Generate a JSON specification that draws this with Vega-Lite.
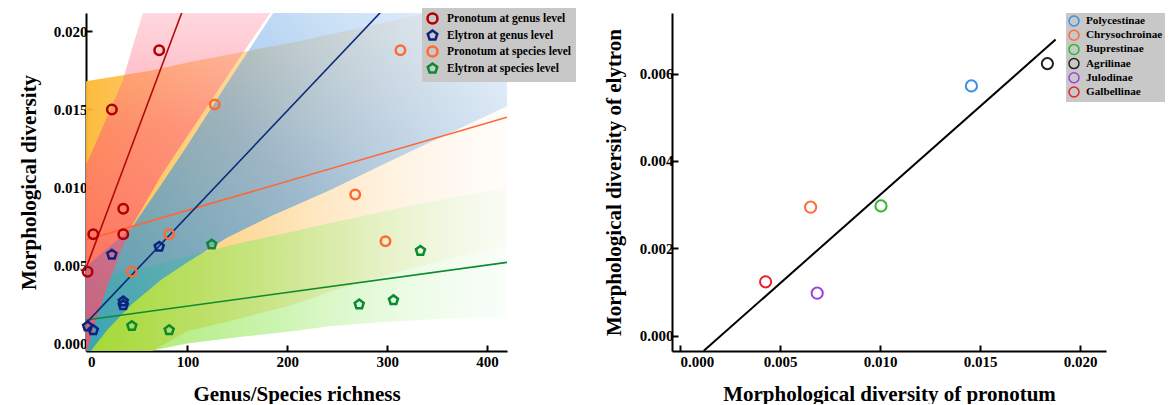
{
  "$schema": "https://vega.github.io/schema/vega-lite/v6.json",
  "background": "white",
  "padding": {"left": 18, "top": 8, "right": 0, "bottom": 0},
  "spacing": 27,
  "resolve": {"scale": {"color": "independent", "shape": "independent"}, "legend": {"color": "independent", "shape": "independent"}},
  "config": {
    "view": {"stroke": null},
    "axis": {
      "grid": false,
      "domainColor": "black",
      "domainWidth": 2,
      "tickColor": "black",
      "tickWidth": 2,
      "tickSize": -6,
      "labelPadding": 5,
      "labelFont": "Liberation Serif",
      "labelFontWeight": "bold",
      "labelFontSize": 15,
      "labelColor": "black",
      "titleFont": "Liberation Serif",
      "titleFontWeight": "bold",
      "titleFontSize": 21,
      "titleColor": "black"
    },
    "legend": {
      "labelFont": "Liberation Serif",
      "labelFontWeight": "bold",
      "labelColor": "black"
    }
  },
  "datasets": {
    "bandO": [
      {"x": -2, "y": 0.0168, "lo": -0.0037},
      {"x": 64, "y": 0.0175, "lo": -0.0005},
      {"x": 100, "y": 0.0180, "lo": 0.0008},
      {"x": 140, "y": 0.0185, "lo": 0.0014},
      {"x": 207, "y": 0.0193, "lo": 0.0025},
      {"x": 242, "y": 0.0198, "lo": 0.0033},
      {"x": 300, "y": 0.0206, "lo": 0.0044},
      {"x": 360, "y": 0.0215, "lo": 0.0054},
      {"x": 420, "y": 0.0225, "lo": 0.0063}
    ],
    "bandG": [
      {"x": -2, "y": 0.0040, "lo": -0.0016},
      {"x": 65, "y": 0.0050, "lo": -0.00045},
      {"x": 100, "y": 0.0056, "lo": 0.0000},
      {"x": 150, "y": 0.0064, "lo": 0.0004},
      {"x": 207, "y": 0.0072, "lo": 0.0008},
      {"x": 242, "y": 0.0077, "lo": 0.0011},
      {"x": 300, "y": 0.0085, "lo": 0.0014},
      {"x": 360, "y": 0.0093, "lo": 0.0016},
      {"x": 420, "y": 0.0100, "lo": 0.0017}
    ],
    "bandB": [
      {"x": -2, "y": 0.0049, "lo": -0.0009},
      {"x": 20, "y": 0.0061, "lo": 0.0009},
      {"x": 44, "y": 0.0074, "lo": 0.0025},
      {"x": 74, "y": 0.0102, "lo": 0.0041},
      {"x": 100, "y": 0.0127, "lo": 0.0052},
      {"x": 140, "y": 0.0167, "lo": 0.0068},
      {"x": 185, "y": 0.0211, "lo": 0.0082},
      {"x": 242, "y": 0.0260, "lo": 0.0098},
      {"x": 300, "y": 0.0265, "lo": 0.0116},
      {"x": 350, "y": 0.0265, "lo": 0.0131},
      {"x": 420, "y": 0.0265, "lo": 0.0152}
    ],
    "bandR": [
      {"x": -2, "y": 0.0114, "lo": -0.0008},
      {"x": 10, "y": 0.0131, "lo": 0.0018},
      {"x": 20, "y": 0.0146, "lo": 0.0037},
      {"x": 35, "y": 0.0168, "lo": 0.0062},
      {"x": 44, "y": 0.0188, "lo": 0.0075},
      {"x": 55, "y": 0.0211, "lo": 0.0087},
      {"x": 74, "y": 0.0255, "lo": 0.0108},
      {"x": 100, "y": 0.0260, "lo": 0.0133},
      {"x": 120, "y": 0.0260, "lo": 0.0152},
      {"x": 150, "y": 0.0260, "lo": 0.0181},
      {"x": 182, "y": 0.0260, "lo": 0.0211},
      {"x": 200, "y": 0.0260, "lo": 0.0228}
    ],
    "lines": [
      {"series": "pg", "x": -2, "y": 0.00476},
      {"series": "pg", "x": 96, "y": 0.02149},
      {"series": "eg", "x": -2, "y": 0.00127},
      {"series": "eg", "x": 296, "y": 0.0214},
      {"series": "ps", "x": -2, "y": 0.00663},
      {"series": "ps", "x": 420, "y": 0.0145},
      {"series": "es", "x": -2, "y": 0.0015},
      {"series": "es", "x": 420, "y": 0.0052}
    ],
    "ptsLeft": [
      {"series": "Pronotum at genus level", "x": 0, "y": 0.0046},
      {"series": "Pronotum at genus level", "x": 5.7, "y": 0.0070},
      {"series": "Pronotum at genus level", "x": 24.3, "y": 0.0150},
      {"series": "Pronotum at genus level", "x": 35.7, "y": 0.00863},
      {"series": "Pronotum at genus level", "x": 35.7, "y": 0.0070},
      {"series": "Pronotum at genus level", "x": 71.7, "y": 0.01879},
      {"series": "Elytron at genus level", "x": 0, "y": 0.0011},
      {"series": "Elytron at genus level", "x": 5.7, "y": 0.00086},
      {"series": "Elytron at genus level", "x": 24.3, "y": 0.0057},
      {"series": "Elytron at genus level", "x": 35.7, "y": 0.0027},
      {"series": "Elytron at genus level", "x": 35.7, "y": 0.00246},
      {"series": "Elytron at genus level", "x": 71.7, "y": 0.0062},
      {"series": "Pronotum at species level", "x": 44.3, "y": 0.0046},
      {"series": "Pronotum at species level", "x": 81.7, "y": 0.0070},
      {"series": "Pronotum at species level", "x": 127.3, "y": 0.01531},
      {"series": "Pronotum at species level", "x": 268, "y": 0.00955},
      {"series": "Pronotum at species level", "x": 298.3, "y": 0.00656},
      {"series": "Pronotum at species level", "x": 313.3, "y": 0.01879},
      {"series": "Elytron at species level", "x": 44.3, "y": 0.00112},
      {"series": "Elytron at species level", "x": 81.7, "y": 0.00086},
      {"series": "Elytron at species level", "x": 124.3, "y": 0.00635},
      {"series": "Elytron at species level", "x": 272, "y": 0.00251},
      {"series": "Elytron at species level", "x": 306.3, "y": 0.00278},
      {"series": "Elytron at species level", "x": 333.3, "y": 0.00594}
    ],
    "lineRight": [
      {"x": 0.00119, "y": -0.00035},
      {"x": 0.01878, "y": 0.00678}
    ],
    "ptsRight": [
      {"subfamily": "Polycestinae", "x": 0.01457, "y": 0.00572},
      {"subfamily": "Chrysochroinae", "x": 0.00653, "y": 0.00294},
      {"subfamily": "Buprestinae", "x": 0.01005, "y": 0.00297},
      {"subfamily": "Agrilinae", "x": 0.01837, "y": 0.00623},
      {"subfamily": "Julodinae", "x": 0.00686, "y": 0.00097},
      {"subfamily": "Galbellinae", "x": 0.00428, "y": 0.00123}
    ]
  },
  "hconcat": [
    {
      "width": 421,
      "height": 338,
      "encoding": {
        "x": {
          "field": "x", "type": "quantitative",
          "scale": {"domain": [-1.6, 420], "nice": false, "zero": false},
          "axis": {"values": [0, 100, 200, 300, 400], "title": "Genus/Species richness", "titlePadding": 14, "labelPadding": 9, "labelFlush": 3}
        },
        "y": {
          "field": "y", "type": "quantitative",
          "scale": {"domain": [-0.00048, 0.02118], "nice": false, "zero": false},
          "axis": {"values": [0, 0.005, 0.01, 0.015, 0.02], "format": ".3f", "title": "Morphological diversity", "titlePadding": 14}
        }
      },
      "layer": [
        {
          "data": {"name": "bandO"},
          "mark": {"type": "area", "clip": true, "fill": {"gradient": "linear", "x1": 0, "y1": 0, "x2": 1, "y2": 0,
            "stops": [{"offset": 0, "color": "rgba(252,184,50,0.95)"}, {"offset": 0.4, "color": "rgba(253,200,110,0.65)"}, {"offset": 1, "color": "rgba(255,235,215,0.12)"}]}},
          "encoding": {"y2": {"field": "lo"}}
        },
        {
          "data": {"name": "bandG"},
          "mark": {"type": "area", "clip": true, "fill": {"gradient": "linear", "x1": 0, "y1": 0, "x2": 1, "y2": 0,
            "stops": [{"offset": 0, "color": "rgba(140,225,50,0.8)"}, {"offset": 0.45, "color": "rgba(160,235,110,0.55)"}, {"offset": 1, "color": "rgba(215,250,215,0.15)"}]}},
          "encoding": {"y2": {"field": "lo"}}
        },
        {
          "data": {"name": "bandB"},
          "mark": {"type": "area", "clip": true, "fill": {"gradient": "linear", "x1": 0, "y1": 1, "x2": 1, "y2": 0,
            "stops": [{"offset": 0, "color": "rgba(30,150,215,0.8)"}, {"offset": 0.45, "color": "rgba(80,150,222,0.55)"}, {"offset": 1, "color": "rgba(200,225,250,0.25)"}]}},
          "encoding": {"y2": {"field": "lo"}}
        },
        {
          "data": {"name": "bandR"},
          "mark": {"type": "area", "clip": true, "fill": {"gradient": "linear", "x1": 0, "y1": 1, "x2": 0, "y2": 0,
            "stops": [{"offset": 0, "color": "rgba(255,70,110,0.75)"}, {"offset": 0.55, "color": "rgba(255,100,120,0.55)"}, {"offset": 1, "color": "rgba(255,170,190,0.22)"}]}},
          "encoding": {"y2": {"field": "lo"}}
        },
        {
          "data": {"name": "lines"},
          "transform": [{"filter": "datum.series == 'ps'"}],
          "mark": {"type": "line", "clip": true, "color": "#ff6633", "strokeWidth": 1.6},
          "encoding": {}
        },
        {
          "data": {"name": "lines"},
          "transform": [{"filter": "datum.series == 'es'"}],
          "mark": {"type": "line", "clip": true, "color": "#0d8a2e", "strokeWidth": 1.6},
          "encoding": {}
        },
        {
          "data": {"name": "lines"},
          "transform": [{"filter": "datum.series == 'eg'"}],
          "mark": {"type": "line", "clip": true, "color": "#0c2a7a", "strokeWidth": 1.6},
          "encoding": {}
        },
        {
          "data": {"name": "lines"},
          "transform": [{"filter": "datum.series == 'pg'"}],
          "mark": {"type": "line", "clip": true, "color": "#b00a0a", "strokeWidth": 1.6},
          "encoding": {}
        },
        {
          "data": {"name": "ptsLeft"},
          "mark": {"type": "point", "filled": false, "strokeWidth": 2.5, "size": 90, "opacity": 1},
          "encoding": {
            "color": {
              "field": "series", "type": "nominal",
              "scale": {"domain": ["Pronotum at genus level", "Elytron at genus level", "Pronotum at species level", "Elytron at species level"],
                        "range": ["#b00000", "#0a2280", "#ff6a33", "#0a8a30"]},
              "legend": {"orient": "none", "legendX": 336, "legendY": -5, "title": null, "fillColor": "#c8c8c8", "padding": 4,
                         "labelFontSize": 11.5, "rowPadding": -5.3, "symbolSize": 100, "symbolStrokeWidth": 2.5, "labelOffset": 8}
            },
            "shape": {
              "field": "series", "type": "nominal",
              "scale": {"domain": ["Pronotum at genus level", "Elytron at genus level", "Pronotum at species level", "Elytron at species level"],
                        "range": ["circle", "M0,-1L0.951,-0.309L0.588,0.809L-0.588,0.809L-0.951,-0.309Z", "circle", "M0,-1L0.951,-0.309L0.588,0.809L-0.588,0.809L-0.951,-0.309Z"]},
              "legend": {"orient": "none", "legendX": 336, "legendY": -5, "title": null, "fillColor": "#c8c8c8", "padding": 4,
                         "labelFontSize": 11.5, "rowPadding": -5.3, "symbolSize": 100, "symbolStrokeWidth": 2.5, "labelOffset": 8}
            }
          }
        }
      ]
    },
    {
      "width": 434,
      "height": 338,
      "encoding": {
        "x": {
          "field": "x", "type": "quantitative",
          "scale": {"domain": [-0.0004, 0.0213], "nice": false, "zero": false},
          "axis": {"values": [0, 0.005, 0.01, 0.015, 0.02], "format": ".3f", "title": "Morphological diversity of pronotum", "titlePadding": 14, "labelPadding": 9, "labelFlush": 10}
        },
        "y": {
          "field": "y", "type": "quantitative",
          "scale": {"domain": [-0.000355, 0.00739], "nice": false, "zero": false},
          "axis": {"values": [0, 0.002, 0.004, 0.006], "format": ".3f", "title": "Morphological diversity of elytron", "titlePadding": 15}
        }
      },
      "layer": [
        {
          "data": {"name": "lineRight"},
          "mark": {"type": "line", "color": "black", "strokeWidth": 2},
          "encoding": {}
        },
        {
          "data": {"name": "ptsRight"},
          "mark": {"type": "point", "shape": "circle", "filled": false, "strokeWidth": 2, "size": 125, "opacity": 1},
          "encoding": {
            "color": {
              "field": "subfamily", "type": "nominal",
              "scale": {"domain": ["Polycestinae", "Chrysochroinae", "Buprestinae", "Agrilinae", "Julodinae", "Galbellinae"],
                        "range": ["#3a8ee6", "#ff6a3a", "#2db82d", "#222222", "#a040e0", "#e8202a"]},
              "legend": {"orient": "none", "legendX": 394, "legendY": 0, "title": null, "fillColor": "#c8c8c8", "padding": 2,
                         "labelFontSize": 11.2, "rowPadding": -1.8, "symbolSize": 100, "symbolStrokeWidth": 1.5, "labelOffset": 6, "symbolType": "circle"}
            }
          }
        }
      ]
    }
  ]
}
